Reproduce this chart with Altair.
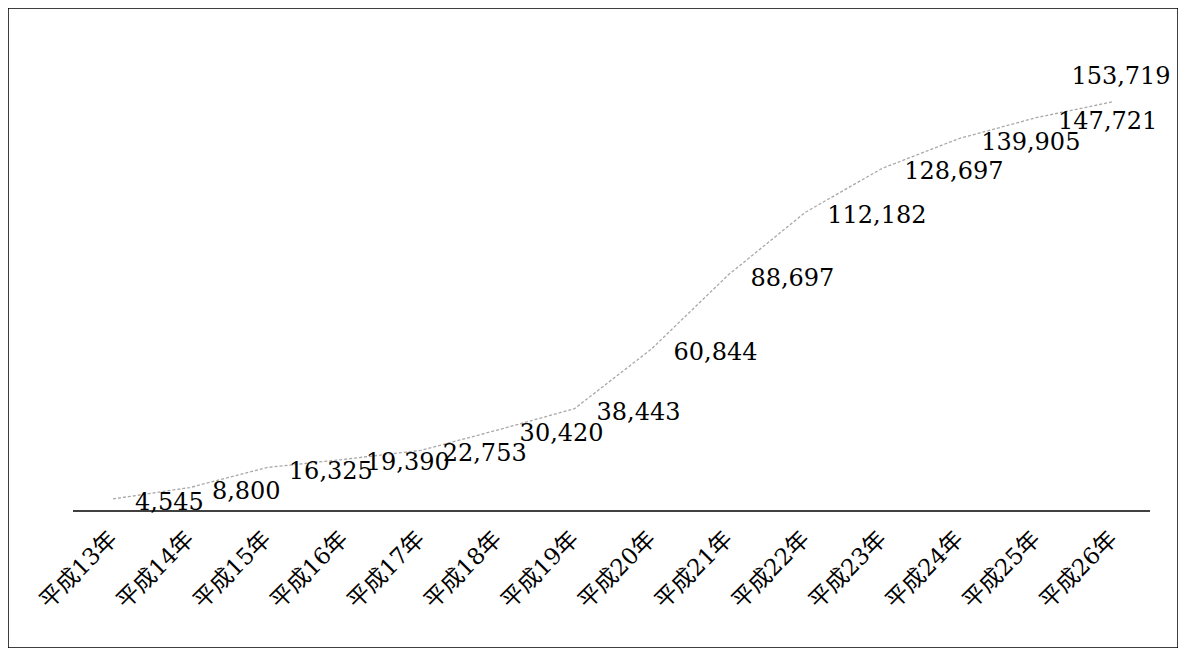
import altair as alt
import pandas as pd

years = ["平成13年", "平成14年", "平成15年", "平成16年", "平成17年", "平成18年", "平成19年",
         "平成20年", "平成21年", "平成22年", "平成23年", "平成24年", "平成25年", "平成26年"]
values = [4545, 8800, 16325, 19390, 22753, 30420, 38443,
          60844, 88697, 112182, 128697, 139905, 147721, 153719]

df = pd.DataFrame({"year": years, "value": values, "idx": list(range(len(years)))})
last_idx = len(years) - 1

NUM_FONT = "DejaVu Serif"
JP_FONT = "DejaVu Serif, Noto Sans CJK JP"

x_enc = alt.X("year:N", sort=years,
              scale=alt.Scale(type="point", range=[105, 1105], padding=0),
              axis=alt.Axis(title=None, labelAngle=-45, labelAlign="right", labelBaseline="middle",
                            domain=False, ticks=False, grid=False, offset=-137, labelPadding=24,
                            labelFontSize=23, labelFont=JP_FONT, labelColor="black"))
y_enc = alt.Y("value:Q", scale=alt.Scale(domain=[0, 160000], range=[503, 77]), axis=None)

base = alt.Chart(df)

line = base.mark_line(color="#a8a8a8", strokeWidth=1.3, strokeDash=[3, 2]).encode(x=x_enc, y=y_enc)

labels = base.transform_filter(alt.datum.idx < last_idx).mark_text(
    align="left", baseline="middle", dx=22, dy=4, font=NUM_FONT, fontSize=24, color="black"
).encode(x=alt.X("year:N", sort=years), y="value:Q", text=alt.Text("value:Q", format=",d"))

last_label = base.transform_filter(alt.datum.idx == last_idx).mark_text(
    align="center", baseline="middle", dx=8, dy=-25, font=NUM_FONT, fontSize=24, color="black"
).encode(x=alt.X("year:N", sort=years), y="value:Q", text=alt.Text("value:Q", format=",d"))

baseline = alt.Chart(pd.DataFrame({"v": [0]})).mark_rule(color="black", strokeWidth=1.5).encode(
    y=alt.Y("v:Q"), x=alt.value(65), x2=alt.value(1142)
)

chart = alt.layer(line, labels, last_label, baseline).properties(
    width=1170, height=640, padding=0,
    autosize=alt.AutoSizeParams(type="none"),
    background="white"
).configure_view(stroke="black", strokeWidth=1.5)

chart.save("out.html", embed_options={"renderer": "svg", "actions": False})
